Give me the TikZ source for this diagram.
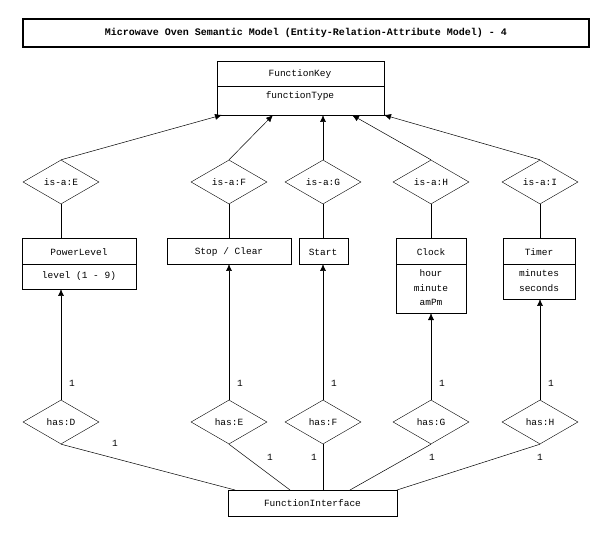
\documentclass[tikz,border=0pt]{standalone}
\usepackage{fontspec}
\setmainfont{Liberation Mono}
\usetikzlibrary{shapes.geometric,arrows.meta}
\begin{document}
\begin{tikzpicture}[x=1pt,y=-1pt,font=\fontsize{9.5}{11}\selectfont,
  box/.style={draw,line width=0.6pt},
  dia/.style={draw,diamond,minimum width=76pt,minimum height=44pt,inner sep=0pt},
  arr/.style={-{Latex[length=7pt,width=6pt]},line width=0.5pt},
  ln/.style={line width=0.5pt}]
\useasboundingbox (0,0) rectangle (613,553);
% title
\node[draw,line width=2pt,minimum width=566pt,minimum height=28pt,font=\fontsize{10}{12}\selectfont\bfseries] (title) at (306,33) {Microwave Oven Semantic Model (Entity-Relation-Attribute Model) - 4};
% FunctionKey
\draw[box] (217,61) rectangle (384,115); \draw[ln] (217,86)--(384,86);
\node (fk) at (300,74) {FunctionKey};
\node (fkt) at (300,96) {functionType};
\coordinate (fkA) at (222,115);\coordinate (fkB) at (273,115);\coordinate (fkC) at (323,115);\coordinate (fkD) at (352,115);\coordinate (fkE) at (384,115);
% entity boxes
\draw[box] (22,238) rectangle (136,289); \draw[ln] (22,264)--(136,264);
\node (pl) at (79,252) {PowerLevel}; \node (plA) at (79,276) {level (1 - 9)};
\draw[box] (167,238) rectangle (291,264); \node (sc) at (229,252) {Stop / Clear};
\draw[box] (299,238) rectangle (348,264); \node (st) at (323,252) {Start};
\draw[box] (396,238) rectangle (466,313); \draw[ln] (396,264)--(466,264);
\node (ck) at (431,252) {Clock};
\node (ckA) at (431,288) [align=center,font=\fontsize{9.5}{14.5}\selectfont] {hour\\minute\\amPm};
\draw[box] (503,238) rectangle (575,299); \draw[ln] (503,264)--(575,264);
\node (tm) at (539,252) {Timer};
\node (tmA) at (539,281) [align=center,font=\fontsize{9.5}{15}\selectfont] {minutes\\seconds};
\coordinate (plT) at (61,238);\coordinate (plB) at (61,289);
\coordinate (scT) at (229,238);\coordinate (scB) at (229,264);
\coordinate (stT) at (323,238);\coordinate (stB) at (323,264);
\coordinate (ckT) at (431,238);\coordinate (ckB) at (431,313);
\coordinate (tmT) at (540,238);\coordinate (tmB) at (540,299);
% FunctionInterface
\node[box,minimum width=169pt,minimum height=26pt] (fi) at (312.5,503) {FunctionInterface};
% is-a diamonds
\foreach \n/\x/\l/\k/\e in {iE/61/E/fkA/plT,iF/229/F/fkB/scT,iG/323/G/fkC/stT,iH/431/H/fkD/ckT,iI/540/I/fkE/tmT}{
  \node[dia] (\n) at (\x,182) {is-a:\l};
  \draw[arr] (\n.north) -- (\k);
  \draw[ln] (\n.south) -- (\e);
}
% has diamonds
\foreach \n/\x/\l/\e in {hD/61/D/plB,hE/229/E/scB,hF/323/F/stB,hG/431/G/ckB,hH/540/H/tmB}{
  \node[dia] (\n) at (\x,422) {has:\l};
  \draw[arr] (\n.north) -- (\e);
  \node at (\x+11,383) {1};
}
\draw[ln] (hD.south) -- (235,490);
\draw[ln] (hE.south) -- (290,490);
\draw[ln] (hF.south) -- (323,490);
\draw[ln] (hG.south) -- (350,490);
\draw[ln] (hH.south) -- (397,490);
\node at (115,443) {1};
\node at (270,457) {1};
\node at (314,457) {1};
\node at (432,457) {1};
\node at (540,457) {1};
\end{tikzpicture}
\end{document}
